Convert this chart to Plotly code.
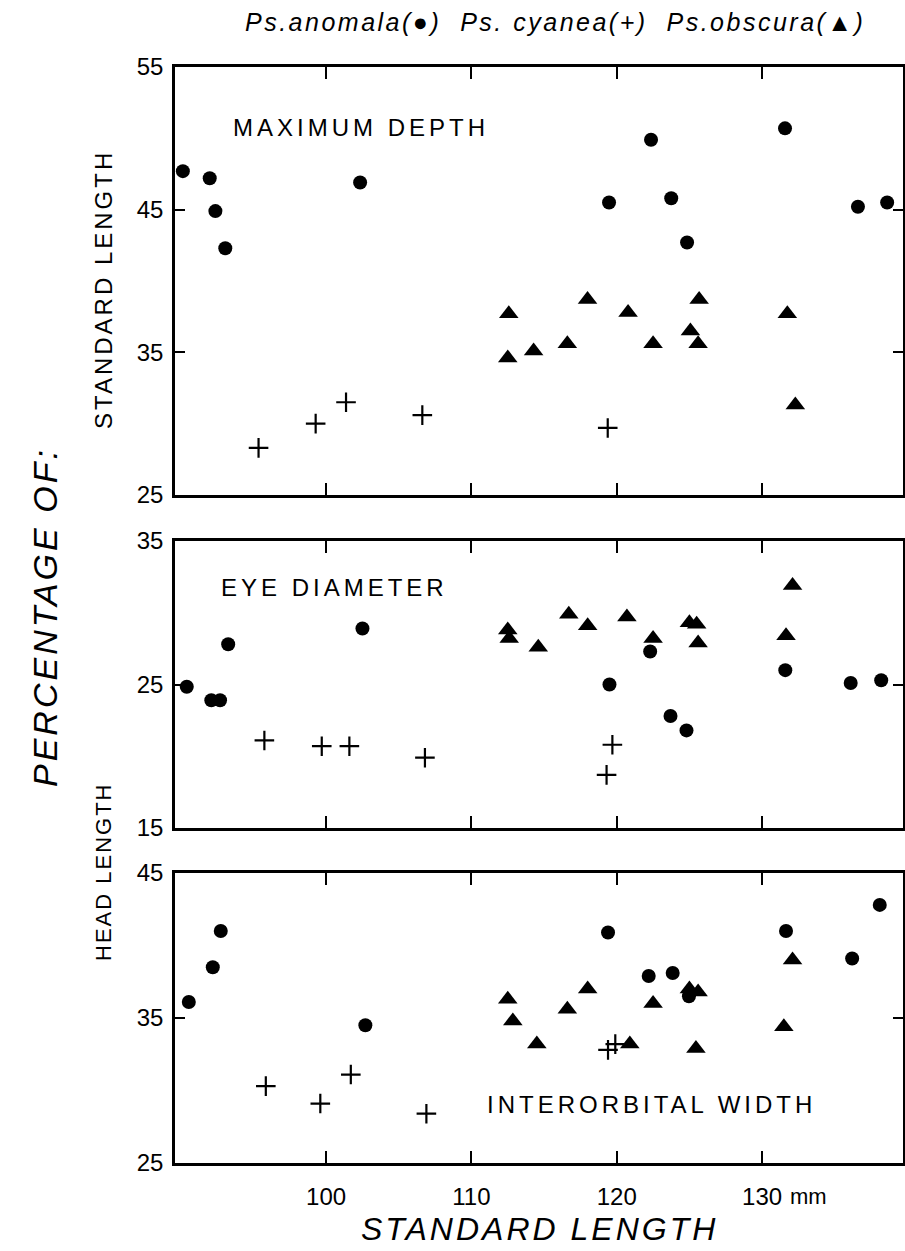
import plotly.graph_objects as go

# ---------------- data ----------------
# Panel 1: maximum depth (% of standard length)
p1_anomala_x = [90.14, 91.99, 92.38, 93.06, 102.34, 119.47, 122.36, 123.75, 124.84, 131.58, 136.60, 138.61]
p1_anomala_y = [47.7, 47.2, 44.9, 42.3, 46.9, 45.5, 49.9, 45.8, 42.7, 50.7, 45.2, 45.5]
p1_cyanea_x = [95.35, 99.28, 101.37, 106.62, 119.38]
p1_cyanea_y = [28.3, 30.0, 31.5, 30.6, 29.7]
p1_obscura_x = [112.57, 112.50, 114.28, 116.60, 117.99, 120.78, 122.50, 125.07, 125.60, 125.67, 131.74, 132.29]
p1_obscura_y = [37.7, 34.6, 35.1, 35.6, 38.7, 37.8, 35.6, 36.5, 35.6, 38.7, 37.7, 31.3]

# Panel 2: eye diameter (% of head length)
p2_anomala_x = [90.41, 92.1, 92.7, 93.26, 102.5, 119.5, 122.3, 123.7, 124.8, 131.6, 136.1, 138.2]
p2_anomala_y = [24.84, 23.9, 23.9, 27.8, 28.9, 25.0, 27.3, 22.8, 21.8, 26.0, 25.1, 25.3]
p2_cyanea_x = [95.75, 99.7, 101.6, 106.8, 119.7, 119.3]
p2_cyanea_y = [21.1, 20.7, 20.7, 19.9, 20.8, 18.7]
p2_obscura_x = [112.5, 112.6, 114.6, 116.7, 118.0, 120.7, 122.5, 125.0, 125.5, 125.6, 131.65, 132.1]
p2_obscura_y = [28.8, 28.2, 27.6, 29.9, 29.1, 29.7, 28.2, 29.3, 29.2, 27.9, 28.4, 31.9]

# Panel 3: interorbital width (% of head length)
p3_anomala_x = [90.55, 92.2, 92.75, 102.7, 119.4, 122.2, 123.85, 124.97, 131.65, 136.2, 138.1]
p3_anomala_y = [36.1, 38.5, 41.0, 34.5, 40.9, 37.9, 38.1, 36.5, 41.0, 39.1, 42.8]
p3_cyanea_x = [95.85, 99.6, 101.7, 106.9, 119.4, 119.9]
p3_cyanea_y = [30.3, 29.1, 31.1, 28.4, 32.8, 33.2]
p3_obscura_x = [112.5, 112.85, 114.5, 116.6, 118.0, 120.9, 122.5, 125.0, 125.6, 125.45, 131.5, 132.1]
p3_obscura_y = [36.3, 34.8, 33.2, 35.6, 37.0, 33.2, 36.0, 37.0, 36.8, 32.9, 34.4, 39.0]

x_ticks = [100, 110, 120, 130]
x_ticktext = ["100", "110", "120", "130"]
p1_yticks = [25, 35, 45, 55]
p2_yticks = [15, 25, 35]
p3_yticks = [25, 35, 45]

panel_titles = ["MAXIMUM DEPTH", "EYE DIAMETER", "INTERORBITAL WIDTH"]

# ---------------- figure ----------------
W, H = 905, 1251
X_RANGE = [89.6, 139.7]
FONT = "Liberation Sans, Arial, sans-serif"

fig = go.Figure()

panels = [
    (p1_anomala_x, p1_anomala_y, p1_cyanea_x, p1_cyanea_y, p1_obscura_x, p1_obscura_y, "x", "y"),
    (p2_anomala_x, p2_anomala_y, p2_cyanea_x, p2_cyanea_y, p2_obscura_x, p2_obscura_y, "x2", "y2"),
    (p3_anomala_x, p3_anomala_y, p3_cyanea_x, p3_cyanea_y, p3_obscura_x, p3_obscura_y, "x3", "y3"),
]

for ax, ay, cx, cy, ox, oy, xa, ya in panels:
    fig.add_trace(go.Scatter(x=ax, y=ay, mode="markers", xaxis=xa, yaxis=ya,
                             marker=dict(symbol="circle", size=14, color="black"),
                             showlegend=False, name="Ps. anomala"))
    fig.add_trace(go.Scatter(x=cx, y=cy, mode="markers", xaxis=xa, yaxis=ya,
                             marker=dict(symbol="cross-thin", size=14,
                                         line=dict(color="black", width=2.2)),
                             showlegend=False, name="Ps. cyanea"))
    fig.add_trace(go.Scatter(x=ox, y=oy, mode="markers", xaxis=xa, yaxis=ya,
                             marker=dict(symbol="triangle-up", size=17, color="black"),
                             showlegend=False, name="Ps. obscura"))

def py(p):
    return 1 - p / H

x_dom = [175 / W, 903 / W]

common_x = dict(range=X_RANGE, tickvals=x_ticks, ticktext=x_ticktext,
                ticks="inside", ticklen=12, tickwidth=2, tickcolor="black",
                showline=True, linecolor="black", linewidth=2.5, mirror="ticks",
                showgrid=False, zeroline=False, domain=x_dom, automargin=False,
                tickfont=dict(family=FONT, size=24, color="black"))
common_y = dict(ticks="inside", ticklen=10, tickwidth=2, tickcolor="black",
                showline=True, linecolor="black", linewidth=2.5, mirror="ticks",
                showgrid=False, zeroline=False, ticklabelstandoff=4, automargin=False,
                tickfont=dict(family=FONT, size=24, color="black"))

fig.update_layout(
    width=W, height=H,
    margin=dict(l=0, r=0, t=0, b=0, autoexpand=False),
    paper_bgcolor="white", plot_bgcolor="white",
    xaxis=dict(common_x, anchor="y", showticklabels=False),
    xaxis2=dict(common_x, anchor="y2", showticklabels=False),
    xaxis3=dict(common_x, anchor="y3", showticklabels=True, ticklabelstandoff=10),
    yaxis=dict(common_y, anchor="x", range=[25, 55], tickvals=p1_yticks,
               domain=[py(495), py(67)]),
    yaxis2=dict(common_y, anchor="x2", range=[15, 35], tickvals=p2_yticks,
                domain=[py(828), py(541)]),
    yaxis3=dict(common_y, anchor="x3", range=[25, 45], tickvals=p3_yticks,
                domain=[py(1163), py(873)]),
)

def spaced(t, sp):
    return '<span style="letter-spacing:%spx">%s</span>' % (sp, t)

def note(text, xp, yp, size, italic=False, angle=0, xanchor="center"):
    f = dict(family=FONT, size=size, color="black")
    if italic:
        f["style"] = "italic"
    return dict(text=text, x=xp / W, y=py(yp), xref="paper", yref="paper",
                showarrow=False, xanchor=xanchor, yanchor="middle",
                textangle=angle, font=f)

ann = [
    note(spaced("Ps.anomala(●)  Ps. cyanea(+)  Ps.obscura(▲)", 2.5), 555, 22, 25, italic=True),
    note(spaced(panel_titles[0], 4), 361, 128, 24),
    note(spaced(panel_titles[1], 4), 334, 587, 24),
    note(spaced(panel_titles[2], 4), 651, 1104, 24),
    note(spaced("PERCENTAGE OF:", 3), 45, 617, 34, italic=True, angle=-90),
    note(spaced("STANDARD LENGTH", 3), 103, 290, 24, angle=-90),
    note(spaced("HEAD LENGTH", 2), 103, 872, 22, angle=-90),
    note(spaced("STANDARD LENGTH", 3), 539, 1229, 32, italic=True),
    note("mm", 808, 1196, 22),
]

fig.update_layout(annotations=ann)

fig.write_html("out.html",
               config={"displayModeBar": False},
               post_script="document.body.style.margin='0';document.body.style.overflow='hidden';")
